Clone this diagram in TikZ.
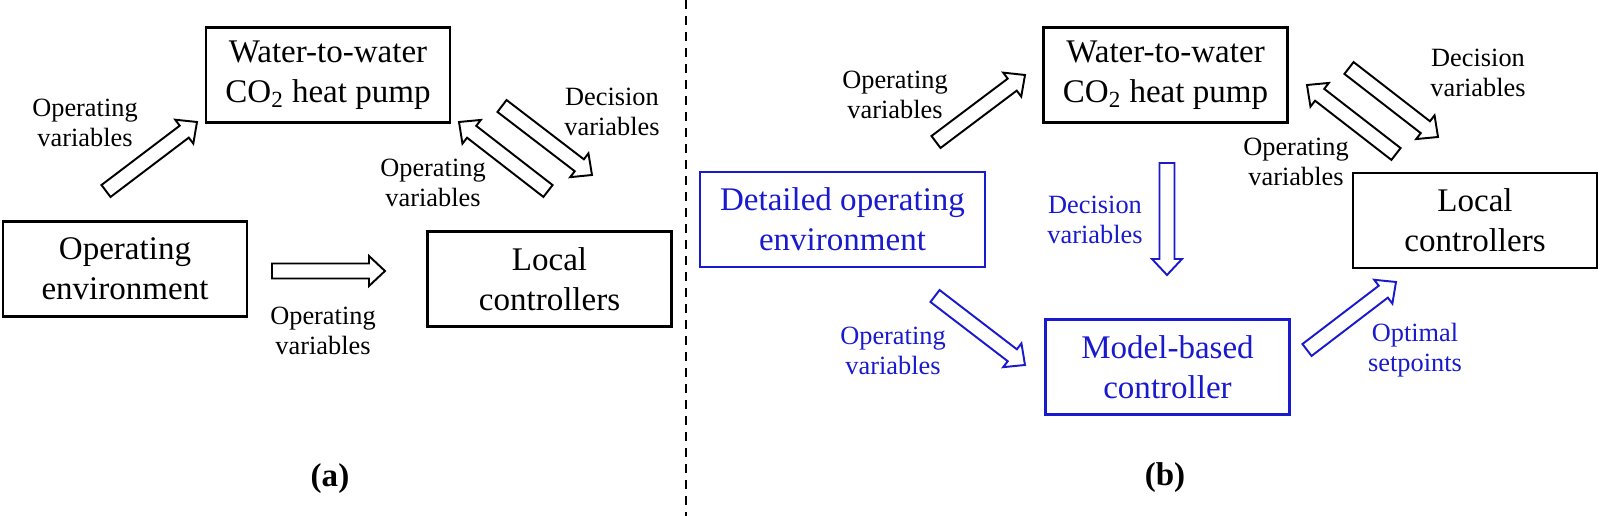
\documentclass[tikz,border=0pt]{standalone}
\usepackage{fontspec}
\setmainfont{Liberation Serif}
\usetikzlibrary{calc}

\definecolor{mpcblue}{RGB}{25,25,205}

\newcommand{\boxfont}{\fontsize{18.8}{22.8}\selectfont}
\newcommand{\labfont}{\fontsize{15}{17}\selectfont}
\newcommand{\arrshaft}{0.15cm}
\newcommand{\arrwing}{0.3cm}
\newcommand{\arrhead}{0.32cm}

% hollow block arrow from #2 (tail) to #3 (tip)
\newcommand{\blockarrow}[3][]{%
    \coordinate (#2-#3) at ($(#3)!\arrhead!(#2)$);
    \draw[hollow,#1]
        ($(#2)!\arrshaft!90:(#3)$) --
        ($(#2-#3)!\arrshaft!90:(#3)$) --
        ($(#2-#3)!\arrwing!90:(#3)$) --
        (#3) --
        ($(#2-#3)!\arrwing!-90:(#3)$) --
        ($(#2-#3)!\arrshaft!-90:(#3)$) --
        ($(#2)!\arrshaft!-90:(#3)$) -- cycle;
}

\tikzset{
    box/.style={draw, line width=1.6pt, minimum width=4.88cm, minimum height=1.9cm,
        inner sep=0pt, align=center, font=\boxfont},
    lab/.style={align=center, inner sep=0pt, font=\labfont},
    mpc/.style={draw=mpcblue, text=mpcblue},
    hollow/.style={draw, line width=1.1pt, fill=white, line join=miter},
}

\begin{document}
\begin{tikzpicture}[x=0.02cm,y=-0.02cm]
            \useasboundingbox (0,0) rectangle (1600,516);

            \draw[line width=1.5pt, dash pattern=on 0.18cm off 0.14cm] (686,0) -- (686,516);

            % (a)
            \node[box] (hpa) at (328,75) {Water-to-water\\CO\textsubscript{2} heat pump};
            \node[box] (enva) at (125,269) {Operating\\environment};
            \node[box] (loca) at (549.5,279) {Local\\controllers};

            \coordinate (a1) at (106,191);
            \coordinate (a1t) at (197,122);
            \coordinate (a2) at (272,271);
            \coordinate (a2t) at (385,271);
            \coordinate (a3) at (548,191);
            \coordinate (a3t) at (459,122);
            \coordinate (a4) at (502,106);
            \coordinate (a4t) at (592,175);

            \blockarrow{a1}{a1t}
            \blockarrow{a2}{a2t}
            \blockarrow{a3}{a3t}
            \blockarrow{a4}{a4t}

            \node[lab] (la1) at (85,123) {Operating\\variables};
            \node[lab] (la2) at (323,331) {Operating\\variables};
            \node[lab] (la3) at (433,183) {Operating\\variables};
            \node[lab] (la4) at (612,112) {Decision\\variables};

            \node[font=\bfseries\boxfont] (capa) at (330,479) {(a)};

            % (b)
            \node[box] (hpb) at (1165.5,75) {Water-to-water\\CO\textsubscript{2} heat pump};
            \node[box, mpc, minimum width=5.7cm] (envb) at (842.5,219.5) {Detailed operating\\environment};
            \node[box] (locb) at (1475,220.5) {Local\\controllers};
            \node[box, mpc] (mbc) at (1167.5,367) {Model-based\\controller};

            \coordinate (b1) at (936,142);
            \coordinate (b1t) at (1025,75);
            \coordinate (b2) at (1167,163);
            \coordinate (b2t) at (1167,275);
            \coordinate (b3) at (935,296);
            \coordinate (b3t) at (1025,365);
            \coordinate (b4) at (1307,350);
            \coordinate (b4t) at (1396,282);
            \coordinate (b5) at (1396,154);
            \coordinate (b5t) at (1307,85);
            \coordinate (b6) at (1349,68);
            \coordinate (b6t) at (1438,137);

            \blockarrow{b1}{b1t}
            \blockarrow[draw=mpcblue]{b2}{b2t}
            \blockarrow[draw=mpcblue]{b3}{b3t}
            \blockarrow[draw=mpcblue]{b4}{b4t}
            \blockarrow{b5}{b5t}
            \blockarrow{b6}{b6t}

            \node[lab] (lb1) at (895,95) {Operating\\variables};
            \node[lab, text=mpcblue] (lb2) at (1095,220) {Decision\\variables};
            \node[lab, text=mpcblue] (lb3) at (893,351) {Operating\\variables};
            \node[lab, text=mpcblue] (lb4) at (1415,350) {Optimal\\setpoints};
            \node[lab] (lb5) at (1296,162) {Operating\\variables};
            \node[lab] (lb6) at (1478,73) {Decision\\variables};

            \node[font=\bfseries\boxfont] (capb) at (1165,478) {(b)};
        \end{tikzpicture}
\end{document}
